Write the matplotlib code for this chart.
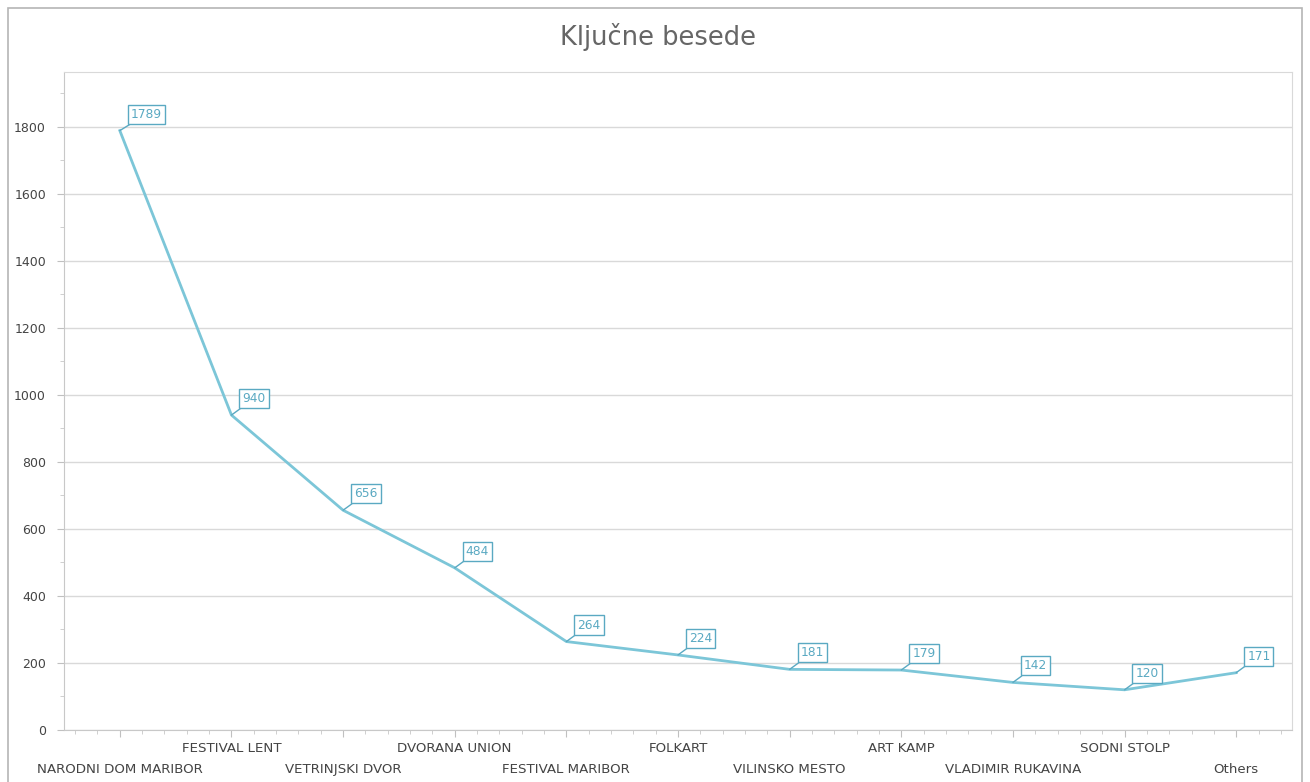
import matplotlib.pyplot as plt
from matplotlib.patches import Rectangle
from matplotlib.ticker import MultipleLocator

# Data
categories = ['NARODNI DOM MARIBOR', 'FESTIVAL LENT', 'VETRINJSKI DVOR', 'DVORANA UNION',
              'FESTIVAL MARIBOR', 'FOLKART', 'VILINSKO MESTO', 'ART KAMP',
              'VLADIMIR RUKAVINA', 'SODNI STOLP', 'Others']
counts = [1789, 940, 656, 484, 264, 224, 181, 179, 142, 120, 171]

line_color = '#7cc6d8'
label_color = '#5aa9c2'
text_color = '#444444'

plt.rcParams['font.family'] = ['DejaVu Sans']

fig = plt.figure(figsize=(13.1, 7.82), dpi=100)
ax = fig.add_axes([64 / 1310, 1 - 730 / 782, (1292 - 64) / 1310, (730 - 72) / 782])

# outer chart frame
fig.add_artist(Rectangle((8 / 1310, -0.02), (1302 - 8) / 1310, 1.02 - 8 / 782,
                         transform=fig.transFigure, fill=False,
                         edgecolor='#b5b5b5', linewidth=1.2))

x = list(range(len(categories)))
ax.plot(x, counts, color=line_color, linewidth=2)

# value labels
for i, v in zip(x, counts):
    ax.annotate(str(v), xy=(i, v), xytext=(11, 10), textcoords='offset pixels',
                ha='left', va='bottom', fontsize=8.8, color=label_color,
                bbox=dict(boxstyle='square,pad=0.25', fc='white', ec=label_color, lw=1),
                arrowprops=dict(arrowstyle='-', color=label_color, lw=1,
                                shrinkA=0, shrinkB=0))

ax.set_xlim(-0.5, len(categories) - 0.5)
ax.set_ylim(0, 1964)
ax.yaxis.set_major_locator(MultipleLocator(200))
ax.yaxis.set_minor_locator(MultipleLocator(100))
ax.xaxis.set_minor_locator(MultipleLocator(0.2))
ax.set_xticks(x, categories)
ax.grid(axis='y', color='#d9d9d9', linewidth=1)
ax.set_axisbelow(True)

for side in ['top', 'right']:
    ax.spines[side].set_color('#d9d9d9')
for side in ['left', 'bottom']:
    ax.spines[side].set_color('#c8c8c8')

ax.tick_params(axis='both', which='major', length=5, color='#c0c0c0',
               labelsize=9, labelcolor=text_color)
ax.tick_params(axis='x', which='major', labelsize=9.6)
ax.tick_params(axis='both', which='minor', length=3, color='#c8c8c8')
ax.tick_params(axis='y', pad=8)

# stagger the category labels on two rows
for i, tick in enumerate(ax.xaxis.get_major_ticks()):
    tick.set_pad(18.5 if i % 2 == 0 else 3.5)

fig.text(658 / 1310, 1 - 37 / 782, 'Ključne besede', ha='center', va='center',
         fontsize=18.5, color='#666666')

fig.savefig('out.png', dpi=100)
